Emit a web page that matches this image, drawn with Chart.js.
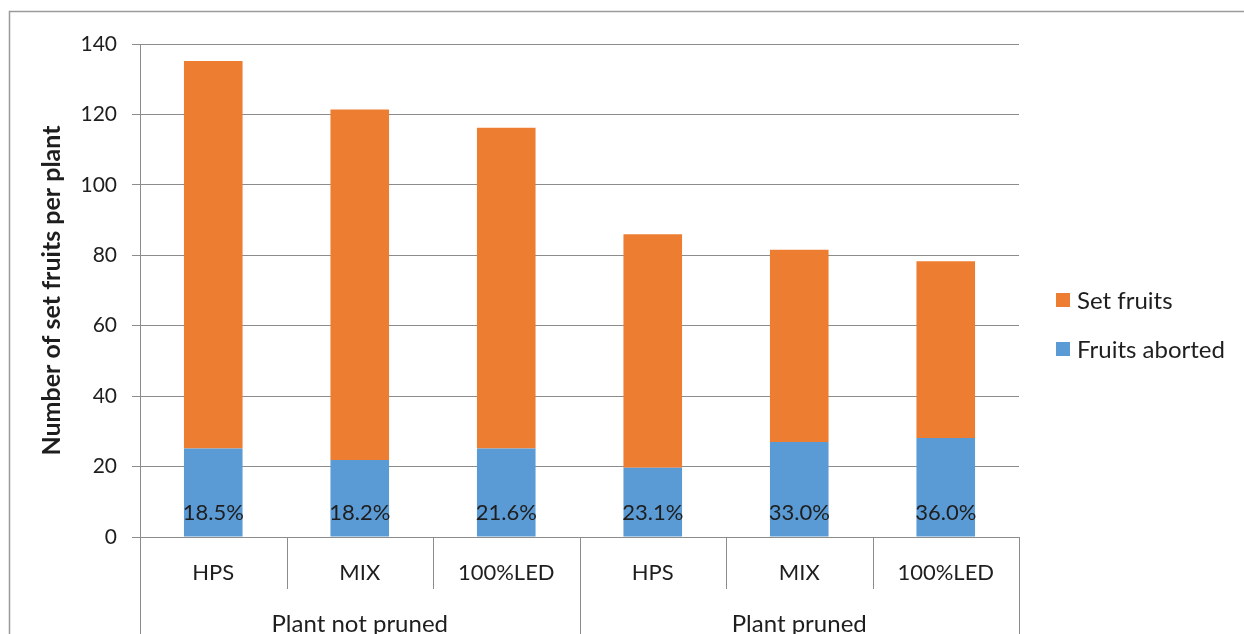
<!DOCTYPE html>
<html>
<head>
<meta charset="utf-8">
<script src="https://cdn.jsdelivr.net/npm/chart.js@4.4.1/dist/chart.umd.min.js"></script>
<style>
html,body{margin:0;padding:0;background:#fff;}
#wrap{width:1244px;height:634px;position:relative;}
</style>
</head>
<body>
<div id="wrap"><canvas id="c" width="1244" height="634"></canvas></div>
<script>
const categories = ["HPS", "MIX", "100%LED", "HPS", "MIX", "100%LED"];
const groups = ["Plant not pruned", "Plant pruned"];
const groupSize = 3;
const fruitsAborted = [25.1, 21.9, 25.1, 19.7, 27.0, 28.1];
const setFruits = [110.1, 99.5, 91.1, 66.3, 54.6, 50.2];
const abortedPctLabels = ["18.5%", "18.2%", "21.6%", "23.1%", "33.0%", "36.0%"];
const yTicks = [0, 20, 40, 60, 80, 100, 120, 140];

const FONT = "Lato, 'Open Sans', sans-serif";
const TXT = "#1e1e1e";
const LINE = "#8c8c8c";
const BLUE = "#5B9BD5";
const ORANGE = "#ED7D31";

const extras = {
  id: 'extras',
  afterDraw(chart) {
    const ctx = chart.ctx;
    const y = chart.scales.y;
    const area = chart.chartArea;
    const n = categories.length;
    const step = (area.right - area.left) / n;
    ctx.save();
    // outer frame (top & left)
    ctx.strokeStyle = "#9a9a9a";
    ctx.lineWidth = 1.5;
    ctx.beginPath();
    ctx.moveTo(9.5, 634); ctx.lineTo(9.5, 11.5); ctx.lineTo(1244, 11.5);
    ctx.stroke();
    // x axis separators
    ctx.strokeStyle = LINE;
    ctx.lineWidth = 1;
    for (let i = 0; i <= n; i++) {
      const px = Math.round(area.left + i * step) + 0.5;
      const full = (i % groupSize === 0);
      ctx.beginPath();
      ctx.moveTo(px, area.bottom);
      ctx.lineTo(px, full ? 634 : 589);
      ctx.stroke();
    }
    // group labels
    ctx.fillStyle = TXT;
    ctx.font = "24px " + FONT;
    ctx.textAlign = "center";
    ctx.textBaseline = "middle";
    groups.forEach((g, gi) => {
      const cx = area.left + (gi * groupSize + groupSize / 2) * step;
      ctx.fillText(g, cx, 624);
    });
    // percentage labels inside base of blue bars
    ctx.font = "22px " + FONT;
    const meta = chart.getDatasetMeta(0);
    meta.data.forEach((bar, i) => {
      ctx.fillText(abortedPctLabels[i], bar.x, y.getPixelForValue(0) - 24);
    });
    // legend
    const items = [
      {label: chart.data.datasets[1].label, color: ORANGE, y: 300},
      {label: chart.data.datasets[0].label, color: BLUE, y: 349}
    ];
    ctx.textAlign = "left";
    ctx.font = "24px " + FONT;
    items.forEach(it => {
      ctx.fillStyle = it.color;
      ctx.fillRect(1056, it.y - 7, 14, 14);
      ctx.fillStyle = TXT;
      ctx.fillText(it.label, 1077, it.y + 1);
    });
    ctx.restore();
  }
};

new Chart(document.getElementById('c'), {
  type: 'bar',
  data: {
    labels: categories,
    datasets: [
      {label: "Fruits aborted", data: fruitsAborted, backgroundColor: BLUE, barPercentage: 0.8, categoryPercentage: 0.5},
      {label: "Set fruits", data: setFruits, backgroundColor: ORANGE, barPercentage: 0.8, categoryPercentage: 0.5}
    ]
  },
  plugins: [extras],
  options: {
    responsive: false,
    animation: false,
    devicePixelRatio: 1,
    layout: {padding: {left: 0, top: 44, right: 225, bottom: 0}},
    plugins: {legend: {display: false}, tooltip: {enabled: false}},
    scales: {
      x: {
        stacked: true,
        grid: {display: false, drawTicks: false},
        border: {display: true, color: LINE, width: 1},
        ticks: {color: TXT, font: {family: FONT, size: 22}, padding: 23, maxRotation: 0, autoSkip: false},
        afterFit(s) { s.height = 97; }
      },
      y: {
        stacked: true,
        min: 0, max: 140,
        afterBuildTicks(s) { s.ticks = yTicks.map(v => ({value: v})); },
        grid: {color: LINE, lineWidth: 1, tickLength: 8},
        border: {display: true, color: LINE, width: 1},
        ticks: {color: TXT, font: {family: FONT, size: 21}, padding: 15},
        title: {display: true, text: "Number of set fruits per plant", color: TXT,
                font: {family: FONT, size: 25, weight: 'bold'}, padding: {top: 37, bottom: 0}},
        afterFit(s) { s.width = 140; }
      }
    }
  }
});
</script>
</body>
</html>
